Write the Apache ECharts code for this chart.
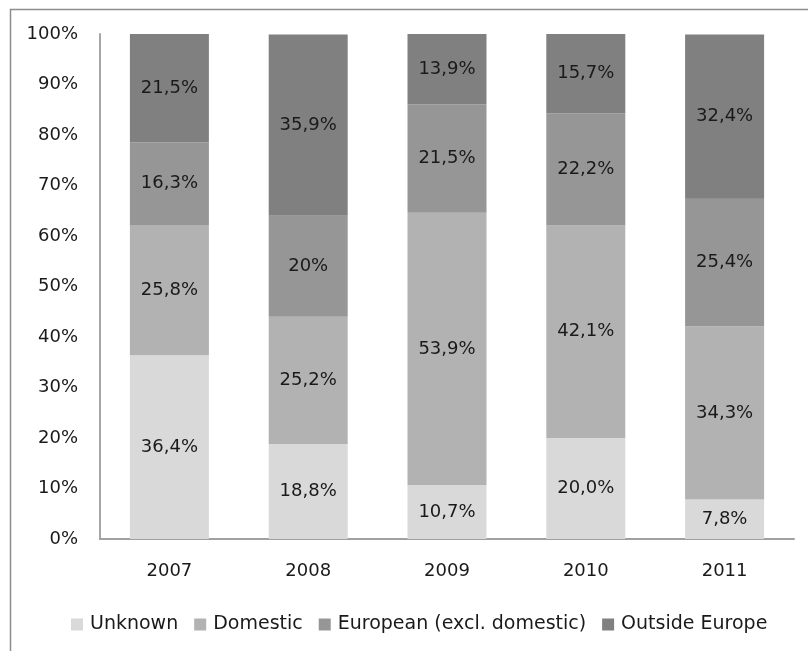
<!DOCTYPE html>
<html>
<head>
<meta charset="utf-8">
<script src="https://cdn.jsdelivr.net/npm/echarts@6/dist/echarts.min.js"></script>
<style>
  html, body { margin: 0; padding: 0; background: #ffffff; }
  #chart { width: 808px; height: 651px; }
</style>
</head>
<body>
<div id="chart"></div>
<script>
// Years on the category axis
var years = ['2007', '2008', '2009', '2010', '2011'];

// Shares per origin, in percent (kept as written so labels show the same precision)
var unknownShare  = ['36.4', '18.8', '10.7', '20.0', '7.8'];
var domesticShare = ['25.8', '25.2', '53.9', '42.1', '34.3'];
var europeanShare = ['16.3', '20',   '21.5', '22.2', '25.4'];
var outsideShare  = ['21.5', '35.9', '13.9', '15.7', '32.4'];

var seriesNames = ['Unknown', 'Domestic', 'European (excl. domestic)', 'Outside Europe'];
var seriesColors = ['#d9d9d9', '#b2b2b2', '#969696', '#808080'];
var seriesValues = [unknownShare, domesticShare, europeanShare, outsideShare];

var fontFamily = '"DejaVu Sans", Verdana, sans-serif';
var textColor = '#1a1a1a';

var chart = echarts.init(document.getElementById('chart'), null, { renderer: 'canvas' });

var series = seriesNames.map(function (name, i) {
  var raw = seriesValues[i];
  return {
    name: name,
    type: 'bar',
    stack: 'total',
    barWidth: 79,
    itemStyle: { color: seriesColors[i] },
    label: {
      show: true,
      position: 'inside',
      fontFamily: fontFamily,
      fontSize: 18,
      color: textColor,
      formatter: function (p) {
        return raw[p.dataIndex].replace('.', ',') + '%';
      }
    },
    emphasis: { disabled: true },
    data: raw.map(Number)
  };
});

chart.setOption({
  animation: false,
  backgroundColor: '#ffffff',
  graphic: [{
    type: 'rect',
    shape: { x: 10.5, y: 9.5, width: 900, height: 700 },
    style: { fill: 'none', stroke: '#8c8c8c', lineWidth: 1.5 },
    silent: true,
    z: -1
  }],
  grid: { left: 100, right: 14, top: 34, bottom: 112 },
  legend: {
    left: 66,
    top: 610,
    itemWidth: 12,
    itemHeight: 12,
    itemGap: 16,
    icon: 'rect',
    textStyle: { fontFamily: fontFamily, fontSize: 19, color: textColor, padding: [0, 0, 0, 2] },
    data: seriesNames
  },
  xAxis: {
    type: 'category',
    data: years,
    axisLine: { show: true, lineStyle: { color: '#a0a0a0', width: 2 } },
    axisTick: { show: false },
    axisLabel: { fontFamily: fontFamily, fontSize: 18, color: textColor, margin: 23 }
  },
  yAxis: {
    type: 'value',
    min: 0,
    max: 100,
    interval: 10,
    axisLine: { show: true, lineStyle: { color: '#a6a6a6', width: 2 } },
    axisTick: { show: false },
    splitLine: { show: false },
    axisLabel: {
      fontFamily: fontFamily, fontSize: 18, color: textColor, margin: 22,
      formatter: '{value}%'
    }
  },
  series: series
});
</script>
</body>
</html>
